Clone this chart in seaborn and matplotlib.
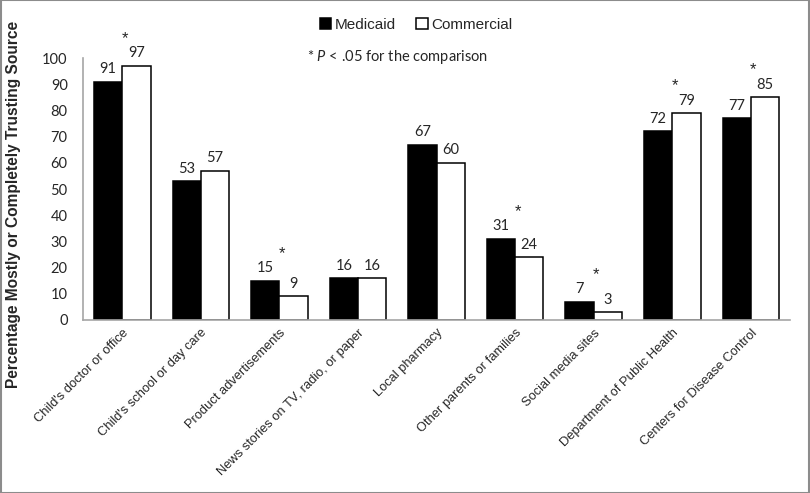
import numpy as np
import pandas as pd
import matplotlib
matplotlib.use("Agg")
import matplotlib.pyplot as plt
from matplotlib.patches import Rectangle
import seaborn as sns

# data
sources = ["Child's doctor or office", "Child's school or day care",
           "Product advertisements", "News stories on TV, radio, or paper",
           "Local pharmacy", "Other parents or families", "Social media sites",
           "Department of Public Health", "Centers for Disease Control"]
medicaid = [91, 53, 15, 16, 67, 31, 7, 72, 77]
commercial = [97, 57, 9, 16, 60, 24, 3, 79, 85]
significant = [True, False, True, False, False, True, True, True, True]
groups = ["Medicaid", "Commercial"]
y_ticks = [0, 10, 20, 30, 40, 50, 60, 70, 80, 90, 100]

df = pd.DataFrame({
    "source": sources * 2,
    "insurance": [groups[0]] * len(sources) + [groups[1]] * len(sources),
    "pct": medicaid + commercial,
})

sns.set_style("white")
plt.rcParams["font.family"] = ["Liberation Sans", "DejaVu Sans"]
plt.rcParams["mathtext.fontset"] = "custom"
plt.rcParams["mathtext.it"] = "Lato:italic"
plt.rcParams["mathtext.rm"] = "Lato"

fig = plt.figure(figsize=(8.1, 4.93), dpi=100)
ax = fig.add_axes([0.1025, 0.351, 0.873, 0.531])

sns.barplot(data=df, x="source", y="pct", hue="insurance", order=sources,
            hue_order=groups, palette=["black", "white"], edgecolor="black",
            linewidth=1.1, width=0.72, ax=ax, saturation=1)

ax.set_ylim(0, 100)
ax.set_xlim(-0.5, len(sources) - 0.5)
ax.set_yticks(y_ticks)
ax.set_yticklabels([str(t) for t in y_ticks], family="Lato", fontsize=10.5)
ax.tick_params(axis="y", length=0, pad=11)
ax.tick_params(axis="x", length=0, pad=5)
ax.set_xticks(range(len(sources)))
ax.set_xticklabels(sources, rotation=45, ha="right", va="top",
                   rotation_mode="anchor", fontsize=9.3)
ax.set_xlabel("")
ax.set_ylabel("Percentage Mostly or Completely Trusting Source",
              fontsize=11.2, fontweight="bold")
ax.yaxis.set_label_coords(-0.088, 0.44)

for side in ["top", "right"]:
    ax.spines[side].set_visible(False)
for side in ["left", "bottom"]:
    ax.spines[side].set_color("#a6a6a6")
    ax.spines[side].set_linewidth(1.2)

for cont in ax.containers:
    ax.bar_label(cont, padding=4, family="Lato", fontsize=10.5)

# significance stars
for i, sig in enumerate(significant):
    if sig:
        top = max(medicaid[i], commercial[i])
        ax.text(i + 0.03, top + 10.5, "*", ha="center", va="center",
                fontsize=12, clip_on=False)

handles, labels = ax.get_legend_handles_labels()
ax.legend(handles, labels, loc="center left", bbox_to_anchor=(0.378, 0.949),
          bbox_transform=fig.transFigure, ncol=2, frameon=False, fontsize=11,
          handlelength=0.75, handleheight=0.75, handletextpad=0.25,
          columnspacing=1.3)

fig.text(0.379, 0.884, "* $P$ < .05 for the comparison", family="Lato",
         fontsize=10.5, ha="left", va="center")

fig.patches.append(Rectangle((0.001, 0.001), 0.998, 0.998,
                             transform=fig.transFigure, fill=False,
                             edgecolor="#8c8c8c", linewidth=1.5))

plt.savefig("out.png", dpi=100)
plt.close()
